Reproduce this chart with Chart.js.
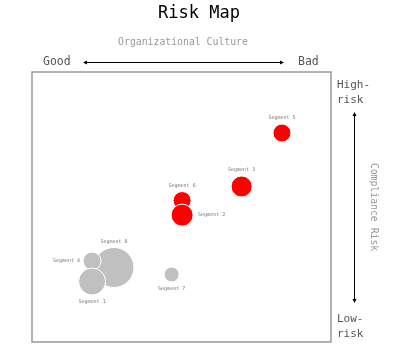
<!DOCTYPE html>
<html>
<head>
<meta charset="utf-8">
<script src="https://cdn.jsdelivr.net/npm/chart.js@4"></script>
<style>
html,body{margin:0;padding:0;background:#fff;}
#wrap{width:398px;height:360px;}
</style>
</head>
<body>
<div id="wrap"><canvas id="c" width="398" height="360"></canvas></div>
<script>
// Data (x: Organizational Culture 0=Good..100=Bad, y: Compliance Risk 0=Low..100=High)
const graySegments = ['Segment 8', 'Segment 4', 'Segment 1', 'Segment 7'];
const grayCulture  = [27.4, 20.1, 20.1, 46.7];
const grayRisk     = [27.6, 30.0, 22.4, 25.0];
const graySize     = [20, 9, 13.5, 7.5];

const redSegments = ['Segment 5', 'Segment 3', 'Segment 6', 'Segment 2'];
const redCulture  = [83.6, 70.1, 50.2, 50.2];
const redRisk     = [77.4, 57.6, 52.4, 47.0];
const redSize     = [9, 10.5, 9, 11];

// label anchor side for each point (same order as above)
const grayLabelSide = ['top', 'left', 'bottom', 'bottom'];
const redLabelSide  = ['top', 'top', 'top', 'right'];

const MONO = '"DejaVu Sans Mono", "Liberation Mono", monospace';

function pts(xs, ys, rs) { return xs.map((x, i) => ({x: x, y: ys[i], r: rs[i]})); }

const decor = {
  id: 'decor',
  afterDraw(chart) {
    const ctx = chart.ctx;
    const a = chart.chartArea;
    ctx.save();
    // plot border
    ctx.strokeStyle = '#9a9a9a';
    ctx.lineWidth = 1.5;
    ctx.strokeRect(a.left, a.top, a.right - a.left, a.bottom - a.top);

    // title
    ctx.fillStyle = '#000';
    ctx.textAlign = 'center';
    ctx.textBaseline = 'middle';
    ctx.font = '17px ' + MONO;
    ctx.fillText('Risk Map', 199, 14);

    // x axis heading
    ctx.fillStyle = '#999';
    ctx.font = '9.8px ' + MONO;
    ctx.fillText('Organizational Culture', 183, 42);

    ctx.fillStyle = '#555';
    ctx.font = '11.5px ' + MONO;
    ctx.textAlign = 'left';
    ctx.fillText('Good', 43, 62);
    ctx.fillText('Bad', 298, 62);

    // horizontal arrow
    ctx.strokeStyle = '#000';
    ctx.fillStyle = '#000';
    ctx.lineWidth = 1;
    ctx.beginPath();
    ctx.moveTo(84, 62.5); ctx.lineTo(283, 62.5); ctx.stroke();
    ctx.beginPath(); ctx.moveTo(83, 62.5); ctx.lineTo(87, 60.5); ctx.lineTo(87, 64.5); ctx.closePath(); ctx.fill();
    ctx.beginPath(); ctx.moveTo(284, 62.5); ctx.lineTo(280, 60.5); ctx.lineTo(280, 64.5); ctx.closePath(); ctx.fill();

    // right side
    ctx.fillStyle = '#555';
    ctx.font = '11px ' + MONO;
    ctx.textAlign = 'left';
    ctx.fillText('High-', 337, 85);
    ctx.fillText('risk', 337, 100);
    ctx.fillText('Low-', 337, 319);
    ctx.fillText('risk', 337, 334);

    // vertical arrow
    ctx.strokeStyle = '#000';
    ctx.fillStyle = '#000';
    ctx.beginPath();
    ctx.moveTo(354.5, 113); ctx.lineTo(354.5, 302); ctx.stroke();
    ctx.beginPath(); ctx.moveTo(354.5, 112); ctx.lineTo(352.5, 116); ctx.lineTo(356.5, 116); ctx.closePath(); ctx.fill();
    ctx.beginPath(); ctx.moveTo(354.5, 303); ctx.lineTo(352.5, 299); ctx.lineTo(356.5, 299); ctx.closePath(); ctx.fill();

    // rotated axis title
    ctx.save();
    ctx.translate(374, 207);
    ctx.rotate(Math.PI / 2);
    ctx.fillStyle = '#999';
    ctx.font = '9.8px ' + MONO;
    ctx.textAlign = 'center';
    ctx.textBaseline = 'middle';
    ctx.fillText('Compliance Risk', 0, 0);
    ctx.restore();

    // point labels
    ctx.font = '5px ' + MONO;
    ctx.fillStyle = '#777';
    ctx.textBaseline = 'middle';
    chart.data.datasets.forEach((ds, di) => {
      const meta = chart.getDatasetMeta(di);
      meta.data.forEach((el, i) => {
        const side = ds.labelSide[i];
        const r = ds.data[i].r;
        const name = ds.names[i];
        let x = el.x, y = el.y;
        if (side === 'top') { ctx.textAlign = 'center'; y = el.y - r - 6; }
        else if (side === 'bottom') { ctx.textAlign = 'center'; y = el.y + r + 6.5; }
        else if (side === 'left') { ctx.textAlign = 'right'; x = el.x - r - 3; }
        else { ctx.textAlign = 'left'; x = el.x + r + 5; }
        ctx.fillText(name, x, y);
      });
    });
    ctx.restore();
  }
};

new Chart(document.getElementById('c'), {
  type: 'bubble',
  data: {
    datasets: [
      {
        names: graySegments,
        labelSide: grayLabelSide,
        data: pts(grayCulture, grayRisk, graySize),
        backgroundColor: '#c0c0c0',
        borderColor: '#ffffff',
        borderWidth: 1,
        hoverRadius: 0
      },
      {
        names: redSegments,
        labelSide: redLabelSide,
        data: pts(redCulture, redRisk, redSize),
        backgroundColor: '#ff0000',
        borderColor: '#ffffff',
        borderWidth: 1,
        hoverRadius: 0
      }
    ]
  },
  options: {
    responsive: false,
    animation: false,
    events: [],
    layout: { autoPadding: false, padding: { left: 32, top: 72, right: 67, bottom: 18 } },
    scales: {
      x: { display: false, min: 0, max: 100 },
      y: { display: false, min: 0, max: 100 }
    },
    plugins: {
      legend: { display: false },
      tooltip: { enabled: false },
      title: { display: false }
    }
  },
  plugins: [decor]
});
</script>
</body>
</html>
